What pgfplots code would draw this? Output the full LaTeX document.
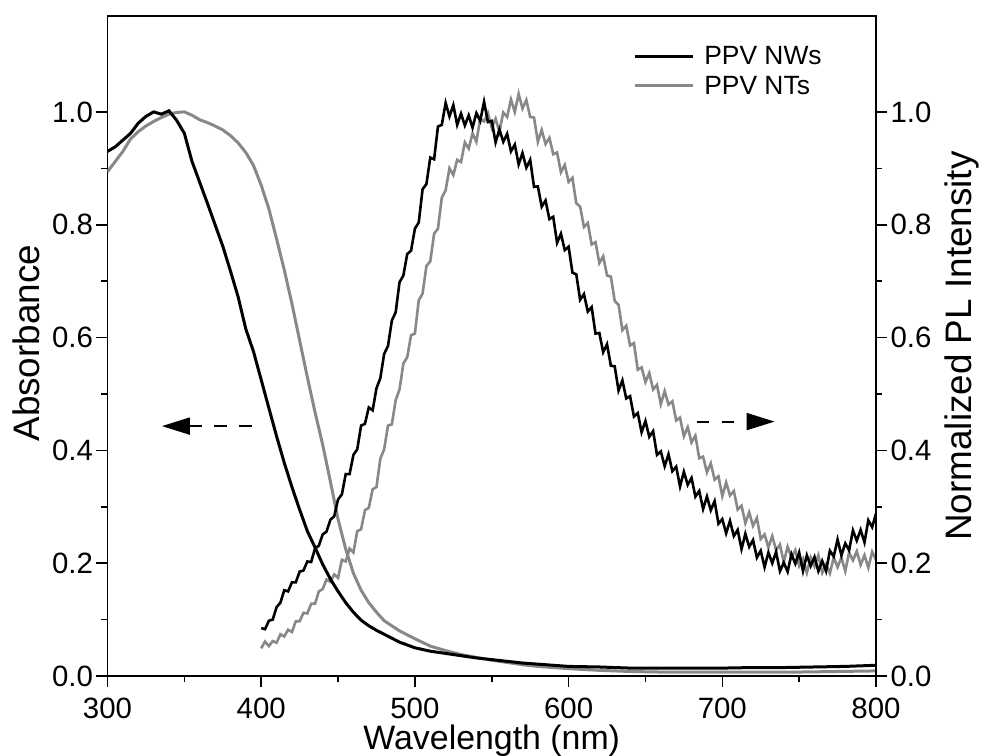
\documentclass[border=0pt]{standalone}
\usepackage{fontspec}
\setmainfont{Liberation Sans}
\usepackage{pgfplots}
\pgfplotsset{compat=1.18}
\usetikzlibrary{arrows.meta}
\definecolor{ntgray}{RGB}{136,136,136}
\begin{document}
\begin{tikzpicture}
\path[use as bounding box] (-107.5bp,-80bp) rectangle (873.5bp,676bp);
\pgfplotsset{
  common/.style={
    at={(0,0)}, anchor=south west, scale only axis,
    width=768.5bp, height=660bp,
    xmin=300, xmax=800, ymin=0, ymax=1.17,
    tick align=outside,
    major tick length=11bp, minor tick length=6bp,
    every tick/.style={black, line width=1.6bp},
    axis line style={line width=1.6bp},
    /pgf/number format/assume math mode=true,
    tick label style={font=\fontsize{29.5}{32}\selectfont},
    ytick={0,0.2,0.4,0.6,0.8,1.0},
    minor y tick num=1,
    yticklabel style={/pgf/number format/fixed, /pgf/number format/fixed zerofill, /pgf/number format/precision=1},
  }
}
\begin{axis}[common,
  xtick={300,400,500,600,700,800}, minor x tick num=1,
  xtick pos=bottom, ytick pos=left,
  xticklabel style={inner sep=0pt, yshift=-10.5bp},
  xlabel={Wavelength (nm)}, ylabel={Absorbance},
  xlabel style={font=\fontsize{34}{36}\selectfont, inner sep=0pt, at={(rel axis cs:0.5,0)}, anchor=base, yshift=-73bp},
  ylabel style={font=\fontsize{37}{39}\selectfont, at={(axis cs:256,0.59)}, anchor=base, rotate=0},
  legend style={at={(axis cs:642,1.120)}, anchor=north west, draw=none, fill=none,
    font=\fontsize{26.5}{28}\selectfont, row sep=6bp, inner sep=0pt,
    /tikz/every odd column/.append style={column sep=8bp}},
  legend cell align=left,
  legend image code/.code={\draw[#1] (0bp,0bp) -- (58bp,0bp);},
]
\addlegendimage{black, line width=3bp}
\addlegendentry{PPV NWs}
\addlegendimage{ntgray, line width=3bp}
\addlegendentry{PPV NTs}
% Absorbance NTs
\addplot[ntgray, line width=3bp, forget plot] coordinates {
(300,0.894)(305,0.912)(310,0.930)(315,0.952)(320,0.965)(325,0.975)(330,0.983)(335,0.990)(340,0.996)(345,0.999)(350,1.000)(355,0.994)(360,0.986)(365,0.981)(370,0.975)(375,0.968)(380,0.958)(385,0.945)(390,0.928)(395,0.905)(400,0.870)(405,0.828)(410,0.775)(415,0.720)(420,0.660)(425,0.595)(430,0.530)(435,0.468)(440,0.410)(445,0.345)(450,0.278)(455,0.225)(460,0.182)(465,0.152)(470,0.130)(475,0.113)(480,0.098)(490,0.080)(500,0.066)(510,0.053)(520,0.045)(530,0.038)(540,0.033)(550,0.028)(560,0.024)(570,0.020)(580,0.017)(600,0.013)(620,0.010)(640,0.008)(660,0.007)(700,0.007)(750,0.007)(800,0.009)
};
% PL NTs
\addplot[ntgray, line width=2.6bp, forget plot] coordinates {
(400,0.049)(402.5,0.061)(405,0.053)(407.5,0.062)(410,0.059)(412.5,0.074)(415,0.070)(417.5,0.082)(420,0.078)(422.5,0.097)(425,0.097)(427.5,0.112)(430,0.111)(432.5,0.128)(435,0.128)(437.5,0.150)(440,0.154)(442.5,0.171)(445,0.167)(447.5,0.180)
(450,0.174)(452.5,0.206)(455,0.203)(457.5,0.226)(460,0.219)(462.5,0.257)(465,0.260)(467.5,0.294)(470,0.298)(472.5,0.331)(475,0.335)(477.5,0.385)(480,0.402)(482.5,0.444)(485,0.446)(487.5,0.489)(490,0.508)(492.5,0.554)(495,0.565)(497.5,0.604)
(500,0.607)(502.5,0.666)(505,0.678)(507.5,0.727)(510,0.735)(512.5,0.784)(515,0.793)(517.5,0.848)(520,0.861)(522.5,0.900)(525,0.888)(527.5,0.915)(530,0.911)(532.5,0.946)(535,0.935)(537.5,0.962)(540,0.947)(542.5,0.988)(545,0.983)(547.5,0.998)
(550,0.972)(552.5,0.988)(555,0.965)(557.5,0.999)(560,0.991)(562.5,1.022)(565,1.000)(567.5,1.032)(570,1.006)(572.5,1.021)(575,0.991)(577.5,0.990)(580,0.947)(582.5,0.968)(585,0.943)(587.5,0.954)(590,0.925)(592.5,0.928)(595,0.893)(597.5,0.906)
(600,0.876)(602.5,0.883)(605,0.838)(607.5,0.832)(610,0.796)(612.5,0.803)(615,0.765)(617.5,0.769)(620,0.732)(622.5,0.744)(625,0.710)(627.5,0.708)(630,0.665)(632.5,0.658)(635,0.613)(637.5,0.621)(640,0.586)(642.5,0.590)(645,0.543)(647.5,0.547)
(650,0.521)(652.5,0.537)(655,0.508)(657.5,0.516)(660,0.482)(662.5,0.505)(665,0.481)(667.5,0.487)(670,0.453)(672.5,0.458)(675,0.425)(677.5,0.441)(680,0.414)(682.5,0.426)(685,0.386)(687.5,0.389)(690,0.361)(692.5,0.377)(695,0.348)(697.5,0.354)
(700,0.319)(702.5,0.343)(705,0.320)(707.5,0.328)(710,0.295)(712.5,0.302)(715,0.271)(717.5,0.290)(720,0.266)(722.5,0.280)(725,0.243)(727.5,0.251)(730,0.228)(732.5,0.248)(735,0.223)(737.5,0.233)(740,0.202)(742.5,0.229)(745,0.210)(747.5,0.223)
(750,0.195)(752.5,0.208)(755,0.183)(757.5,0.210)(760,0.194)(762.5,0.214)(765,0.183)(767.5,0.198)(770,0.182)(772.5,0.210)(775,0.193)(777.5,0.210)(780,0.186)(782.5,0.219)(785,0.205)(787.5,0.221)(790,0.197)(792.5,0.214)(795,0.192)(797.5,0.220)(800,0.206)
};
% Absorbance NWs
\addplot[black, line width=3bp, forget plot] coordinates {
(300,0.930)(305,0.938)(310,0.950)(315,0.962)(320,0.980)(325,0.992)(330,1.000)(335,0.996)(340,1.002)(345,0.985)(350,0.962)(355,0.912)(360,0.875)(365,0.838)(370,0.800)(375,0.762)(380,0.718)(385,0.672)(390,0.615)(395,0.575)(400,0.525)(405,0.475)(410,0.425)(415,0.378)(420,0.335)(425,0.295)(430,0.257)(435,0.228)(440,0.198)(445,0.172)(450,0.150)(455,0.130)(460,0.113)(465,0.099)(470,0.089)(475,0.081)(480,0.074)(490,0.060)(500,0.050)(510,0.044)(520,0.040)(530,0.036)(540,0.032)(550,0.029)(560,0.026)(570,0.023)(580,0.021)(590,0.019)(600,0.017)(620,0.016)(640,0.014)(660,0.014)(680,0.014)(700,0.014)(720,0.015)(740,0.015)(760,0.016)(780,0.017)(800,0.019)
};
% PL NWs
\addplot[black, line width=2.6bp, forget plot] coordinates {
(400,0.085)(402.5,0.083)(405,0.098)(407.5,0.100)(410,0.122)(412.5,0.130)(415,0.152)(417.5,0.150)(420,0.166)(422.5,0.166)(425,0.185)(427.5,0.187)(430,0.203)(432.5,0.202)(435,0.226)(437.5,0.231)(440,0.251)(442.5,0.256)(445,0.277)(447.5,0.283)
(450,0.313)(452.5,0.322)(455,0.358)(457.5,0.358)(460,0.392)(462.5,0.402)(465,0.444)(467.5,0.447)(470,0.476)(472.5,0.471)(475,0.510)(477.5,0.528)(480,0.571)(482.5,0.585)(485,0.630)(487.5,0.645)(490,0.698)(492.5,0.710)(495,0.748)(497.5,0.754)
(500,0.793)(502.5,0.804)(505,0.863)(507.5,0.872)(510,0.919)(512.5,0.916)(515,0.974)(517.5,0.977)(520,1.016)(522.5,0.992)(525,1.012)(527.5,0.977)(530,0.997)(532.5,0.976)(535,0.994)(537.5,0.972)(540,0.998)(542.5,0.984)(545,1.018)(547.5,0.982)
(550,0.984)(552.5,0.946)(555,0.969)(557.5,0.947)(560,0.961)(562.5,0.930)(565,0.942)(567.5,0.907)(570,0.927)(572.5,0.901)(575,0.915)(577.5,0.867)(580,0.868)(582.5,0.832)(585,0.843)(587.5,0.810)(590,0.814)(592.5,0.768)(595,0.784)(597.5,0.755)
(600,0.761)(602.5,0.715)(605,0.712)(607.5,0.667)(610,0.677)(612.5,0.646)(615,0.654)(617.5,0.607)(620,0.608)(622.5,0.574)(625,0.588)(627.5,0.550)(630,0.549)(632.5,0.506)(635,0.524)(637.5,0.492)(640,0.496)(642.5,0.460)(645,0.466)(647.5,0.432)
(650,0.452)(652.5,0.424)(655,0.434)(657.5,0.392)(660,0.398)(662.5,0.372)(665,0.393)(667.5,0.363)(670,0.371)(672.5,0.336)(675,0.362)(677.5,0.339)(680,0.351)(682.5,0.318)(685,0.328)(687.5,0.296)(690,0.318)(692.5,0.294)(695,0.310)(697.5,0.270)
(700,0.278)(702.5,0.253)(705,0.275)(707.5,0.248)(710,0.259)(712.5,0.225)(715,0.252)(717.5,0.229)(720,0.241)(722.5,0.210)(725,0.222)(727.5,0.193)(730,0.219)(732.5,0.200)(735,0.220)(737.5,0.186)(740,0.201)(742.5,0.185)(745,0.216)(747.5,0.199)
(750,0.219)(752.5,0.186)(755,0.214)(757.5,0.195)(760,0.211)(762.5,0.186)(765,0.204)(767.5,0.186)(770,0.222)(772.5,0.212)(775,0.242)(777.5,0.214)(780,0.235)(782.5,0.223)(785,0.258)(787.5,0.240)(790,0.259)(792.5,0.237)(795,0.276)(797.5,0.264)(800,0.288)
};
\draw[black, line width=2bp, dash pattern=on 13bp off 12bp, -{Triangle[length=28bp,width=17bp]}] (axis cs:394,0.443) -- (axis cs:335.4,0.443);
\draw[black, line width=2bp, dash pattern=on 12bp off 13bp, -{Triangle[length=28bp,width=17bp]}] (axis cs:683.3,0.451) -- (axis cs:734,0.451);
\end{axis}
\begin{axis}[common,
  axis x line=none, axis y line*=right,
  ytick pos=right,
  ylabel={Normalized PL Intensity},
  ylabel style={font=\fontsize{37}{39}\selectfont, at={(axis cs:862,0.585)}, anchor=base, rotate=0},
]
\end{axis}
\end{tikzpicture}
\end{document}
